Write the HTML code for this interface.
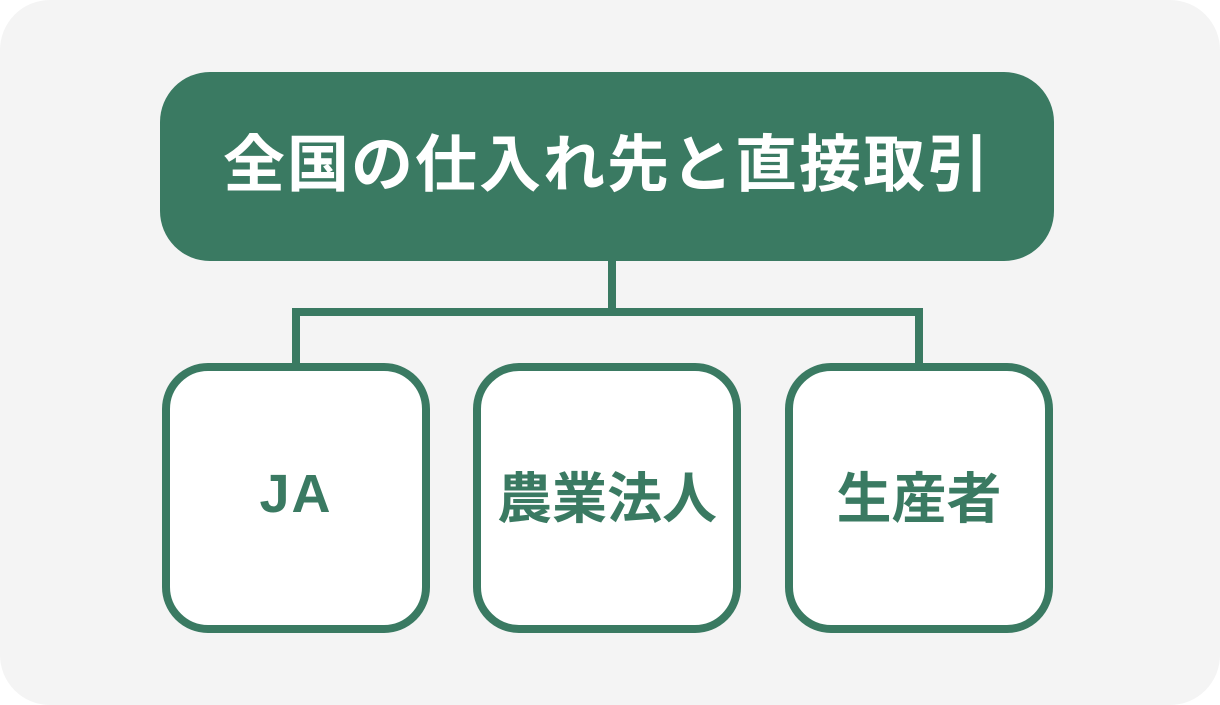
<!DOCTYPE html>
<html><head><meta charset="utf-8"><style>
body{margin:0;width:1220px;height:705px;background:#fff;overflow:hidden;font-family:"Liberation Sans","Noto Sans CJK JP",sans-serif;}
.bg{position:absolute;left:0;top:0;width:1220px;height:705px;background:#f4f4f4;border-radius:50px;}
.top{position:absolute;left:160px;top:72px;width:894px;height:189px;background:#3a7a62;border-radius:50px;color:#fff;font-weight:bold;font-size:62px;display:flex;align-items:center;justify-content:center;letter-spacing:2px;box-sizing:border-box;padding-bottom:16px;}
.ln{position:absolute;background:#3a7a62;}
.b{position:absolute;top:363px;width:252px;height:254px;border:8px solid #3a7a62;border-radius:46px;background:#fff;color:#3a7a62;font-weight:bold;font-size:55px;display:flex;align-items:center;justify-content:center;box-sizing:content-box;}
.b span{position:relative;top:-4px;}
</style></head><body>
<div class="bg"></div>
<div class="top">全国の仕入れ先と直接取引</div>
<div class="ln" style="left:608px;top:260px;width:8px;height:52px"></div>
<div class="ln" style="left:292px;top:308px;width:631px;height:8px"></div>
<div class="ln" style="left:292px;top:308px;width:8px;height:58px"></div>
<div class="ln" style="left:915px;top:308px;width:8px;height:58px"></div>
<div class="b" style="left:162px"><span style="font-size:54px;letter-spacing:2px">JA</span></div>
<div class="b" style="left:473px"><span>農業法人</span></div>
<div class="b" style="left:785px"><span>生産者</span></div>
</body></html>
